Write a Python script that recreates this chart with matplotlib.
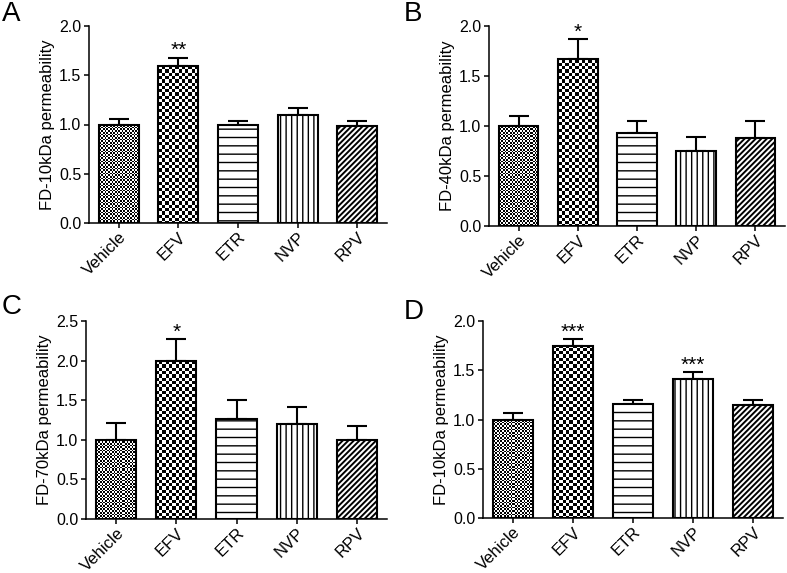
import matplotlib
matplotlib.use('Agg')
import matplotlib.pyplot as plt
import numpy as np

plt.rcParams['font.family'] = ['Liberation Sans', 'DejaVu Sans']
plt.rcParams['hatch.linewidth'] = 1.0

# data
groups = ['Vehicle', 'EFV', 'ETR', 'NVP', 'RPV']

mean_a = [1.00, 1.59, 0.99, 1.10, 0.98]
err_a = [0.055, 0.09, 0.045, 0.065, 0.06]
stars_a = ['', '**', '', '', '']

mean_b = [1.00, 1.67, 0.935, 0.755, 0.88]
err_b = [0.105, 0.20, 0.115, 0.135, 0.17]
stars_b = ['', '*', '', '', '']

mean_c = [1.00, 1.99, 1.26, 1.195, 1.00]
err_c = [0.21, 0.28, 0.24, 0.215, 0.17]
stars_c = ['', '*', '', '', '']

mean_d = [1.00, 1.745, 1.157, 1.41, 1.147]
err_d = [0.07, 0.075, 0.045, 0.07, 0.053]
stars_d = ['', '***', '', '***', '']

W, H = 787, 573
fig = plt.figure(figsize=(W / 100, H / 100), dpi=100)


def px_axes(l, r, t, b):
    return fig.add_axes([l / W, 1 - b / H, (r - l) / W, (b - t) / H])


def checker(ax, bar, cell):
    bb = ax.get_window_extent()
    w, h = int(round(bb.width)), int(round(bb.height))
    jj, ii = np.meshgrid(np.arange(w), np.arange(h))
    pat = (np.floor(ii / cell) + np.floor(jj / cell)) % 2
    x0, x1 = ax.get_xlim()
    y0, y1 = ax.get_ylim()
    im = ax.imshow(pat, cmap='gray', vmin=0, vmax=1, extent=(x0, x1, y0, y1),
                   aspect='auto', interpolation='nearest', zorder=2.2)
    im.set_clip_path(bar)


def panel(ax, means, errs, stars, ylabel, ymax, letter, lx, ly):
    x = np.arange(len(groups))
    ax.set_xlim(-0.5, 4.5)
    ax.set_ylim(0, ymax)
    bars = ax.bar(x, means, width=0.67, color='white', edgecolor='none', zorder=2)
    checker(ax, bars[0], 1.7)
    checker(ax, bars[1], 3.3)
    hatches = [None, None, '--', '|||', '//////']
    for b, ht in zip(bars, hatches):
        if ht:
            b.set_hatch(ht)
            b.set_edgecolor('black')
            b.set_linewidth(0)
    # darker diagonal fill for the last bar
    if hasattr(bars[4], 'set_hatch_linewidth'):
        bars[4].set_hatch_linewidth(1.4)
    ax.bar(x, means, width=0.67, fill=False, edgecolor='black', linewidth=1.5, zorder=3)
    ax.errorbar(x, means, yerr=[np.zeros(len(means)), errs], fmt='none',
                ecolor='black', elinewidth=1.5, capsize=7, capthick=1.5, zorder=1.5)
    for xi, m, e, s in zip(x, means, errs, stars):
        if s:
            ax.annotate(s, (xi, m + e), xytext=(0, -2), textcoords='offset points',
                        ha='center', va='bottom', fontsize=15)
    ticks = np.arange(0, ymax + 0.01, 0.5)
    ax.set_yticks(ticks)
    ax.set_yticklabels(['%.1f' % v for v in ticks], fontsize=11.5)
    ax.set_xticks(x)
    ax.set_xticklabels(groups, rotation=45, ha='right', rotation_mode='anchor', fontsize=12)
    ax.set_ylabel(ylabel, fontsize=12, labelpad=3)
    for side in ['top', 'right']:
        ax.spines[side].set_visible(False)
    for side in ['left', 'bottom']:
        ax.spines[side].set_linewidth(1.1)
    ax.tick_params(direction='out', length=3.5, width=1.1, pad=2)
    ax.tick_params(axis='x', pad=1)
    fig.text(lx / W, 1 - ly / H, letter, fontsize=20, va='top', ha='left')


ax_a = px_axes(89, 387, 26, 223)
panel(ax_a, mean_a, err_a, stars_a, 'FD-10kDa permeability', 2.0, 'A', 2, 1)
ax_b = px_axes(489, 785, 26, 226)
panel(ax_b, mean_b, err_b, stars_b, 'FD-40kDa permeability', 2.0, 'B', 404, 1)
ax_c = px_axes(86, 387, 321, 519)
panel(ax_c, mean_c, err_c, stars_c, 'FD-70kDa permeability', 2.5, 'C', 2, 294)
ax_d = px_axes(483, 783, 321, 518)
panel(ax_d, mean_d, err_d, stars_d, 'FD-10kDa permeability', 2.0, 'D', 404, 299)

fig.savefig('out.png', dpi=100)
